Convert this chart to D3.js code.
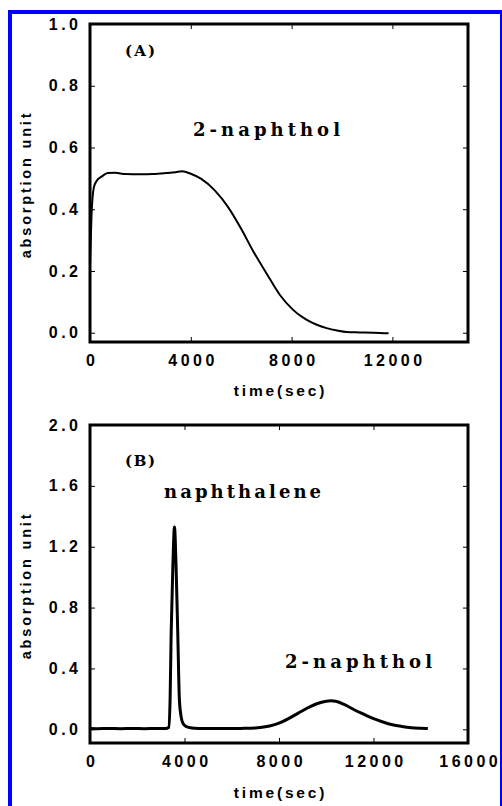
<!DOCTYPE html>
<html>
<head>
<meta charset="utf-8">
<script src="https://cdn.jsdelivr.net/npm/d3@7"></script>
<style>
html,body{margin:0;padding:0;background:#fff;}
svg{display:block;}
</style>
</head>
<body>
<svg id="chart" width="502" height="806"></svg>
<script>
// ---------- Data ----------
const timeA = [0, 60, 150, 250, 450, 700, 1000, 1400, 2000, 2500, 3000, 3400, 3650, 4000, 4400, 4950, 5480, 6010, 6470, 7000, 7530, 8060, 8400, 8730, 9000, 9390, 9800, 10190, 10700, 11250, 11850];
const naphtholA = [0.22, 0.38, 0.47, 0.49, 0.505, 0.517, 0.518, 0.514, 0.513, 0.514, 0.517, 0.52, 0.523, 0.515, 0.499, 0.461, 0.407, 0.335, 0.265, 0.193, 0.123, 0.074, 0.052, 0.036, 0.026, 0.015, 0.007, 0.002, 0.001, 0.0, -0.002];

const timeB = [0, 300, 800, 1300, 1800, 2300, 2800, 3200, 3330, 3390, 3435, 3505, 3575, 3645, 3715, 3785, 3860, 3930, 4050, 4250, 4600, 5200, 5800, 6400, 7000, 7200, 7600, 8000, 8400, 8800, 9200, 9600, 10000, 10200, 10400, 10800, 11200, 11600, 12000, 12400, 12800, 13200, 13600, 14000, 14300];
const absorbB = [0.005, 0.004, 0.006, 0.004, 0.005, 0.004, 0.006, 0.005, 0.012, 0.19, 0.63, 1.06, 1.33, 1.06, 0.63, 0.19, 0.08, 0.04, 0.02, 0.01, 0.006, 0.005, 0.005, 0.006, 0.009, 0.012, 0.022, 0.04, 0.07, 0.105, 0.14, 0.168, 0.184, 0.187, 0.184, 0.16, 0.127, 0.098, 0.07, 0.048, 0.03, 0.019, 0.011, 0.007, 0.005];

const xTicksA = [0, 4000, 8000, 12000];
const yTicksA = [0, 0.2, 0.4, 0.6, 0.8, 1.0];
const xTicksB = [0, 4000, 8000, 12000, 16000];
const yTicksB = [0, 0.4, 0.8, 1.2, 1.6, 2.0];

const xTitle = "time(sec)";
const yTitle = "absorption unit";
const panelLabels = ["(A)", "(B)"];
const annotA = ["2-naphthol"];
const annotB = ["naphthalene", "2-naphthol"];

// ---------- Drawing ----------
const svg = d3.select("#chart");

// blue page border
svg.append("rect")
  .attr("x", 10).attr("y", 12).attr("width", 492).attr("height", 800)
  .attr("fill", "none").attr("stroke", "#0000ff").attr("stroke-width", 4);

const tickFont = "'Liberation Sans', Arial, sans-serif";
const serifFont = "'DejaVu Serif', serif";
const TS = 3.5; // tick label letter spacing

function panel(cfg) {
  const {left, right, top, bottom, xDomain, yDomain, xTicks, yTicks, xs, ys, lineWidth} = cfg;
  const x = d3.scaleLinear().domain(xDomain).range([left, right]);
  const y = d3.scaleLinear().domain(yDomain).range([bottom, top]);
  const g = svg.append("g");

  const styleAxis = sel => {
    sel.select(".domain").remove();
    sel.selectAll(".tick line").attr("stroke", "#000").attr("stroke-width", 1);
    sel.selectAll("text")
      .attr("fill", "#000")
      .style("font-family", tickFont)
      .style("font-size", "16px")
      .style("font-weight", "bold")
      .style("letter-spacing", TS + "px");
  };

  // bottom axis with labels
  g.append("g").attr("transform", `translate(0,${bottom})`)
    .call(d3.axisBottom(x).tickValues(xTicks).tickFormat(d3.format("d"))
      .tickSizeInner(-5).tickSizeOuter(0).tickPadding(13))
    .call(styleAxis)
    .call(s => s.selectAll("text").attr("dx", (TS / 2) + "px"));
  // top ticks
  g.append("g").attr("transform", `translate(0,${top})`)
    .call(d3.axisTop(x).tickValues(xTicks).tickFormat("")
      .tickSizeInner(-5).tickSizeOuter(0))
    .call(styleAxis);
  // left axis with labels
  g.append("g").attr("transform", `translate(${left},0)`)
    .call(d3.axisLeft(y).tickValues(yTicks).tickFormat(d3.format(".1f"))
      .tickSizeInner(-5).tickSizeOuter(0).tickPadding(8.5))
    .call(styleAxis);
  // right ticks
  g.append("g").attr("transform", `translate(${right},0)`)
    .call(d3.axisRight(y).tickValues(yTicks).tickFormat("")
      .tickSizeInner(-5).tickSizeOuter(0))
    .call(styleAxis);

  // data line
  const pts = xs.map((t, i) => [t, ys[i]]);
  g.append("path")
    .datum(pts)
    .attr("fill", "none")
    .attr("stroke", "#000")
    .attr("stroke-width", lineWidth)
    .attr("stroke-linejoin", "round")
    .attr("d", d3.line().x(d => x(d[0])).y(d => y(d[1])).curve(d3.curveMonotoneX));

  // frame
  g.append("rect")
    .attr("x", left).attr("y", top)
    .attr("width", right - left).attr("height", bottom - top)
    .attr("fill", "none").attr("stroke", "#000").attr("stroke-width", 3);

  // axis titles
  g.append("text")
    .attr("x", (left + right) / 2 + 1.5).attr("y", cfg.xTitleY)
    .attr("text-anchor", "middle")
    .style("font-family", tickFont).style("font-size", "15.5px")
    .style("font-weight", "bold").style("letter-spacing", "2.8px")
    .text(xTitle);
  g.append("text")
    .attr("transform", `translate(31,${(top + bottom) / 2 + 1.5}) rotate(-90)`)
    .attr("text-anchor", "middle")
    .style("font-family", tickFont).style("font-size", "14.5px")
    .style("font-weight", "bold").style("letter-spacing", "2.8px")
    .text(yTitle);

  return {g, x, y};
}

const A = panel({
  left: 90, right: 468, top: 24, bottom: 342,
  xDomain: [0, 15000], yDomain: [-0.03, 1.0],
  xTicks: xTicksA, yTicks: yTicksA,
  xs: timeA, ys: naphtholA, lineWidth: 2, xTitleY: 396
});
const B = panel({
  left: 90, right: 468, top: 425, bottom: 743,
  xDomain: [0, 16000], yDomain: [-0.09, 2.0],
  xTicks: xTicksB, yTicks: yTicksB,
  xs: timeB, ys: absorbB, lineWidth: 3, xTitleY: 798
});

function label(g, txt, x, y, size, len) {
  g.append("text").attr("x", x).attr("y", y)
    .attr("textLength", len).attr("lengthAdjust", "spacing")
    .style("font-family", serifFont).style("font-size", size + "px")
    .style("font-weight", "bold")
    .text(txt);
}
label(A.g, panelLabels[0], 125, 56, 15, 30);
label(A.g, annotA[0], 193, 136, 18, 147);
label(B.g, panelLabels[1], 125, 466, 15, 30);
label(B.g, annotB[0], 164, 498, 18, 157);
label(B.g, annotB[1], 285, 668, 18, 147);
</script>
</body>
</html>
